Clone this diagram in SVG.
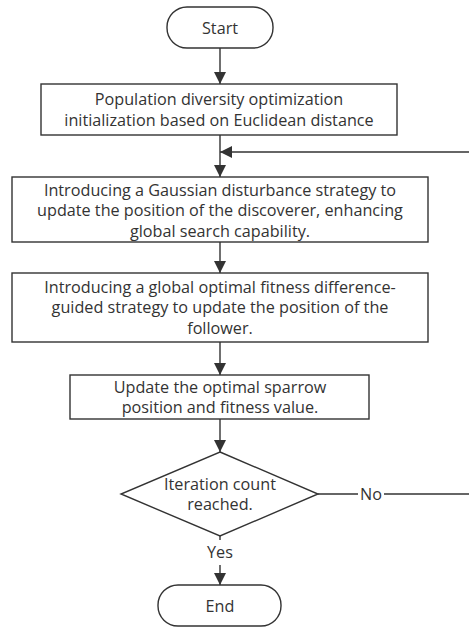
<svg xmlns="http://www.w3.org/2000/svg" width="469" height="627" viewBox="0 0 469 627">
<defs>
<style>
.n{fill:#fff;stroke:#333;stroke-width:1.4}
.c{fill:none;stroke:#333;stroke-width:1.4}
text{font-family:"Open Sans","Noto Sans",sans-serif;font-size:16.2px;fill:#333;text-anchor:middle;dominant-baseline:central}
</style>
<marker id="ah" viewBox="0 0 12 14" refX="12" refY="6" markerWidth="12" markerHeight="14" markerUnits="userSpaceOnUse" orient="auto">
<path d="M0,0 L12,6 L0,12 Z" fill="#333"/>
</marker>
</defs>
<rect width="469" height="627" fill="#fff"/>
<g id="connectors">
<line class="c" x1="220" y1="48" x2="220" y2="84" marker-end="url(#ah)"/>
<line class="c" x1="220" y1="135" x2="220" y2="177" marker-end="url(#ah)"/>
<line class="c" x1="469" y1="152" x2="220" y2="152" marker-end="url(#ah)"/>
<line class="c" x1="220" y1="242" x2="220" y2="273" marker-end="url(#ah)"/>
<line class="c" x1="220" y1="342" x2="220" y2="375" marker-end="url(#ah)"/>
<line class="c" x1="220" y1="419" x2="220" y2="452" marker-end="url(#ah)"/>
<line class="c" x1="318" y1="494" x2="358" y2="494"/>
<line class="c" x1="384" y1="494" x2="469" y2="494"/>
<line class="c" x1="220" y1="536" x2="220" y2="540"/>
<line class="c" x1="220" y1="565" x2="220" y2="585" marker-end="url(#ah)"/>
<text x="371" y="494">No</text>
<text x="220" y="552">Yes</text>
</g>
<g id="start">
<rect class="n" x="167" y="7" width="106" height="41" rx="20"/>
<text x="220" y="27.5">Start</text>
</g>
<g id="init">
<rect class="n" x="41" y="84" width="356" height="51"/>
<text x="219" y="99">Population diversity optimization</text>
<text x="219" y="120">initialization based on Euclidean distance</text>
</g>
<g id="gaussian">
<rect class="n" x="12" y="177" width="416" height="65"/>
<text x="220" y="190">Introducing a Gaussian disturbance strategy to</text>
<text x="220" y="210">update the position of the discoverer, enhancing</text>
<text x="220" y="231">global search capability.</text>
</g>
<g id="follower">
<rect class="n" x="12" y="273" width="416" height="69"/>
<text x="220" y="287">Introducing a global optimal fitness difference-</text>
<text x="220" y="307">guided strategy to update the position of the</text>
<text x="220" y="328">follower.</text>
</g>
<g id="update">
<rect class="n" x="70" y="375" width="299" height="44"/>
<text x="220" y="387">Update the optimal sparrow</text>
<text x="220" y="407">position and fitness value.</text>
</g>
<g id="decision">
<polygon class="n" points="220,452 318,494 220,536 121,494"/>
<text x="220" y="484">Iteration count</text>
<text x="220" y="504">reached.</text>
</g>
<g id="end">
<rect class="n" x="158" y="585" width="123" height="41" rx="20"/>
<text x="220" y="606">End</text>
</g>
</svg>
